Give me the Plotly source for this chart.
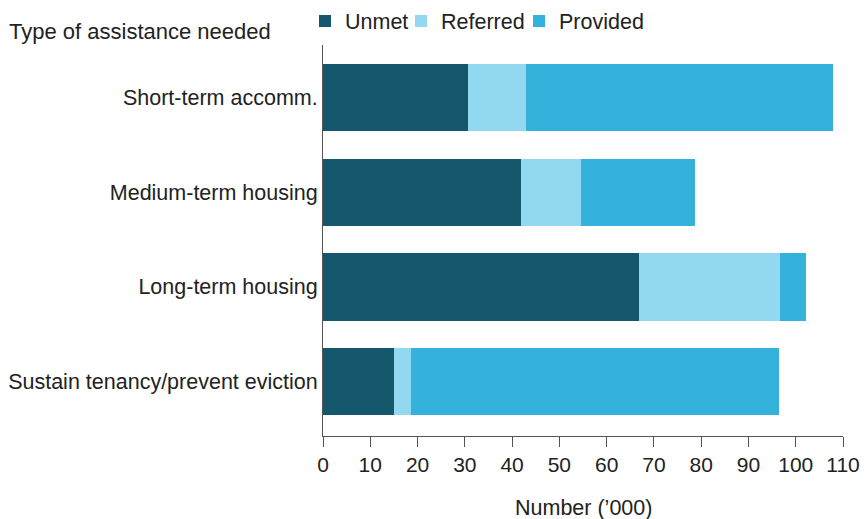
import plotly.graph_objects as go

categories = [
    "Short-term accomm.",
    "Medium-term housing",
    "Long-term housing",
    "Sustain tenancy/prevent eviction",
]
unmet = [30.7, 41.9, 66.8, 15.0]
referred = [12.2, 12.7, 29.9, 3.6]
provided = [65.0, 24.1, 5.5, 77.9]
x_ticks = list(range(0, 111, 10))

series = [
    ("Unmet", unmet, "#15586e"),
    ("Referred", referred, "#92d8f1"),
    ("Provided", provided, "#35b2dc"),
]

FONT = "Liberation Sans, Arial, sans-serif"
TEXT = "#222222"
AXIS = "#555555"

# one legend box per series so the entries sit close together
legend_ids = ["legend", "legend2", "legend3"]
legend_left_px = [305, 401, 519]

fig = go.Figure()
for (name, vals, color), lid in zip(series, legend_ids):
    fig.add_trace(go.Bar(
        y=categories, x=vals, name=name, orientation="h",
        marker=dict(color=color, line=dict(width=0)),
        width=0.71, legend=lid,
    ))

legend_layout = {}
for lid, left in zip(legend_ids, legend_left_px):
    legend_layout[lid] = dict(
        orientation="h", xref="container", x=left / 865, xanchor="left",
        yref="container", y=1 - 21 / 519, yanchor="middle",
        font=dict(size=21.5, color=TEXT), itemwidth=30,
        bgcolor="rgba(0,0,0,0)",
    )

fig.update_layout(
    barmode="stack",
    width=865, height=519,
    margin=dict(l=323, r=22, t=45, b=83, autoexpand=False),
    paper_bgcolor="white", plot_bgcolor="white",
    font=dict(family=FONT, size=21.5, color=TEXT),
    showlegend=True,
    **legend_layout,
    xaxis=dict(
        range=[0, 110], tickvals=x_ticks, ticks="outside", ticklen=10,
        tickcolor=AXIS, showline=True, linecolor=AXIS, linewidth=1,
        showgrid=False, zeroline=False, automargin=False,
        tickfont=dict(size=21, color=TEXT),
    ),
    yaxis=dict(
        categoryorder="array", categoryarray=categories,
        range=[3.574, -0.554], showline=True, linecolor=AXIS, linewidth=1,
        ticks="", showgrid=False, zeroline=False,
        automargin=False, tickfont=dict(size=21.5, color=TEXT),
    ),
    annotations=[
        dict(text="Type of assistance needed", xref="paper", yref="paper",
             x=(7 - 323) / 520, y=1 + (45 - 32) / 391, xanchor="left",
             yanchor="middle", showarrow=False,
             font=dict(size=22, color=TEXT)),
        dict(text="Number (\u2019000)", xref="paper", yref="paper",
             x=0.5, y=-(508 - 436) / 391, xanchor="center", yanchor="middle",
             showarrow=False, font=dict(size=21.5, color=TEXT)),
    ],
)

fig.write_html("out.html")
